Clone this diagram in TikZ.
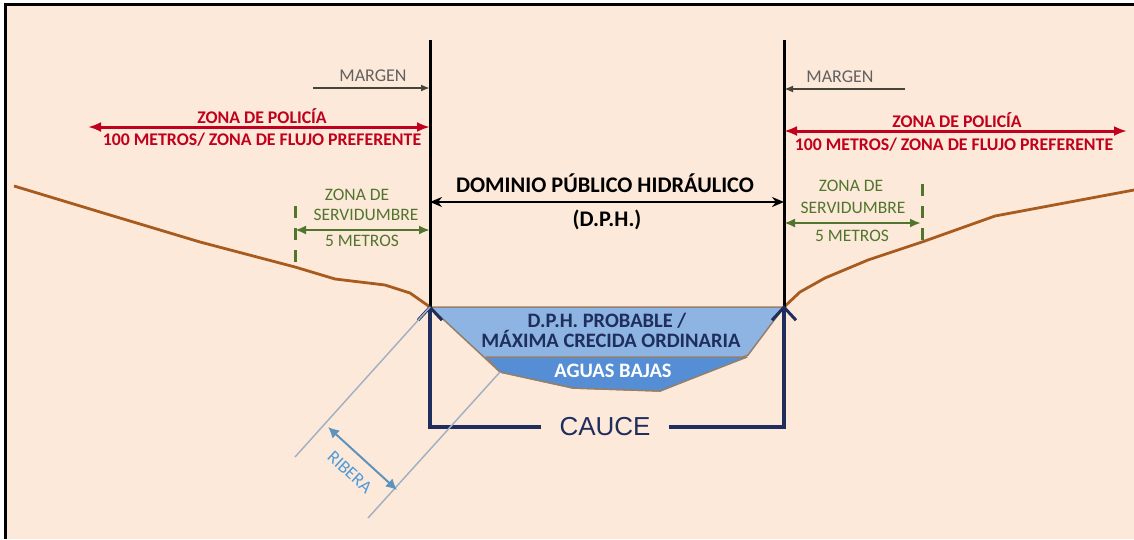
\documentclass[tikz,border=0pt]{standalone}
\usepackage{fontspec}
\setmainfont{Carlito}
\newfontfamily\caucefont{Liberation Sans}
\usepackage{tikz}
\usetikzlibrary{positioning,arrows.meta}

\definecolor{peach}{HTML}{FDE9D9}
\definecolor{ground}{HTML}{A85B1E}
\definecolor{water}{HTML}{8DB4E2}
\definecolor{lowwater}{HTML}{558ED5}
\definecolor{navy}{HTML}{1F2E5C}
\definecolor{policia}{HTML}{C0001C}
\definecolor{servid}{HTML}{52752E}
\definecolor{margen}{HTML}{45453A}
\definecolor{ribera}{HTML}{4F9BD9}
\definecolor{riberaline}{HTML}{A3B1C4}

\begin{document}
\begin{tikzpicture}[x=1pt, y=-1pt,
			bank/.style={line width=3pt, black},
			margenarrow/.style={-{Latex[length=9pt,width=7pt]}, line width=2.2pt, draw=margen},
			margentxt/.style={text=black!62, font=\fontsize{18}{18}\selectfont, anchor=base, inner sep=0pt},
			policiaarrow/.style={{Latex[length=13pt,width=10pt]}-{Latex[length=13pt,width=10pt]}, line width=3pt, draw=policia},
			policiatxt/.style={text=policia, font=\bfseries\fontsize{17.8}{17.8}\selectfont, anchor=base, inner sep=0pt},
			servidarrow/.style={{Latex[length=11pt,width=9pt]}-{Latex[length=11pt,width=9pt]}, line width=2.8pt, draw=servid},
			servidtxt/.style={text=servid, font=\fontsize{17.5}{17.5}\selectfont, anchor=base, inner sep=0pt},
			limite/.style={servid, line width=3pt, dash pattern=on 12pt off 10pt},
			dpharrow/.style={{Stealth[length=12pt,width=10pt]}-{Stealth[length=12pt,width=10pt]}, line width=2.4pt},
			dphtxt/.style={font=\bfseries\fontsize{22.3}{22.3}\selectfont, anchor=base, inner sep=0pt},
			aguatxt/.style={font=\bfseries\fontsize{20.5}{20.5}\selectfont, anchor=base, inner sep=0pt},
			caucearrow/.style={-{Straight Barb[length=13pt,width=24pt,line width=3pt]}, line width=3.4pt, draw=navy},
			riberaarrow/.style={{Latex[length=11pt,width=11pt]}-{Latex[length=11pt,width=11pt]}, line width=2pt, draw=ribera!70!gray},
		]

			% Frame
			\useasboundingbox (0,0) rectangle (1134,539);
			\fill[white] (0,0) rectangle (1134,539);
			\fill[peach] (5,4) rectangle (1134,539);
			\draw[line width=3pt] (5,539) -- (5,4) -- (1134,4);

			% Coordinates
			\coordinate (topL)  at (430,40);
			\coordinate (bankL) at (430,307);
			\coordinate (topR)  at (784,40);
			\coordinate (bankR) at (784,307);
			\coordinate (lowL)  at (500,372);

			% Water
			\filldraw[fill=water, draw=gray!70!brown, line width=1.5pt, line join=round]
				(bankL) -- (bankR) -- (748,355) -- (660,391) -- (573,388) -- (lowL) -- cycle;
			\filldraw[fill=lowwater, draw=gray!70!brown, line width=1.5pt, line join=round]
				(486,357) -- (747,357) -- (660,391) -- (573,388) -- (lowL) -- cycle;

			% Ground
			\draw[ground, line width=2.8pt, line join=round]
				(14,186) -- (110,215) -- (200,242) -- (295,267) -- (335,279) -- (385,285) -- (410,293) -- (bankL);
			\draw[ground, line width=2.8pt, line join=round]
				(bankR) -- (800,292) -- (825,278) -- (868,260) -- (922,242) -- (995,216) -- (1134,190);

			% Banks
			\draw[bank] (topL) -- (bankL);
			\draw[bank] (topR) -- (bankR);

			% Margen
			\coordinate (margenL) at (313,88);
			\coordinate (margenR) at (905,89);
			\draw[margenarrow] (margenL) -- (margenL -| bankL);
			\draw[margenarrow] (margenR) -- (margenR -| bankR);
			\node[margentxt] (margenLtxt) at (373,81) {MARGEN};
			\node[margentxt] (margenRtxt) at (840,82) {MARGEN};

			% Zona de policia
			\coordinate (policiaL) at (88,127);
			\coordinate (policiaR) at (1127,131);
			\draw[policiaarrow] (policiaL) -- (policiaL -| bankL);
			\draw[policiaarrow] (policiaR -| bankR) -- (policiaR);
			\node[policiatxt] (policiaL1) at (262,123) {ZONA DE POLICÍA};
			\node[policiatxt] (policiaL2) at (262,145) {100 METROS/ ZONA DE FLUJO PREFERENTE};
			\node[policiatxt] (policiaR1) at (957,127) {ZONA DE POLICÍA};
			\node[policiatxt] (policiaR2) at (954,150) {100 METROS/ ZONA DE FLUJO PREFERENTE};

			% Dominio publico hidraulico
			\coordinate (dph) at (607,202);
			\draw[dpharrow] (dph -| bankL) -- (dph -| bankR);
			\node[dphtxt] (dph1) at (605,192) {DOMINIO PÚBLICO HIDRÁULICO};
			\node[dphtxt] (dph2) at (607,226) {(D.P.H.)};

			% Zona de servidumbre
			\coordinate (servidL) at (295,230);
			\coordinate (servidR) at (921,223);
			\draw[limite] (295,206) -- (295,268);
			\draw[limite] (922,184) -- (922,242);
			\draw[servidarrow] (servidL) -- (servidL -| bankL);
			\draw[servidarrow] (servidR -| bankR) -- (servidR);
			\node[servidtxt] (servidL1) at (357,200) {ZONA DE};
			\node[servidtxt] (servidL2) at (366,220) {SERVIDUMBRE};
			\node[servidtxt] (servidL3) at (362,246) {5 METROS};
			\node[servidtxt] (servidR1) at (851,191) {ZONA DE};
			\node[servidtxt] (servidR2) at (853,213) {SERVIDUMBRE};
			\node[servidtxt] (servidR3) at (852,241) {5 METROS};

			% Cauce
			\node[aguatxt, text=navy] (probable) at (607,327) {D.P.H. PROBABLE /};
			\node[aguatxt, text=navy] (crecida)  at (611,347) {MÁXIMA CRECIDA ORDINARIA};
			\node[aguatxt, text=white] (bajas)   at (613,377) {AGUAS BAJAS};
			\node[text=navy, font=\caucefont\fontsize{26}{26}\selectfont, inner xsep=18pt, inner ysep=0pt] (cauce) at (605,427) {CAUCE};
			\draw[caucearrow, line join=miter] (cauce.west) -| ([yshift=2pt]bankL);
			\draw[caucearrow, line join=miter] (cauce.east) -| ([yshift=2pt]bankR);

			% Ribera
			\coordinate (riberaA) at (295,457);
			\coordinate (riberaB) at (368,518);
			\coordinate (riberaC) at (328,427);
			\coordinate (riberaD) at (397,490);
			\draw[riberaline, line width=1.5pt] (bankL) -- (riberaA);
			\draw[riberaline, line width=1.5pt] (lowL) -- (riberaB);
			\draw[riberaarrow] (riberaC) -- (riberaD)
				node[midway, sloped, below=12pt, text=ribera, font=\fontsize{18}{18}\selectfont, inner sep=0pt] (riberatxt) {RIBERA};

		\end{tikzpicture}
\end{document}
